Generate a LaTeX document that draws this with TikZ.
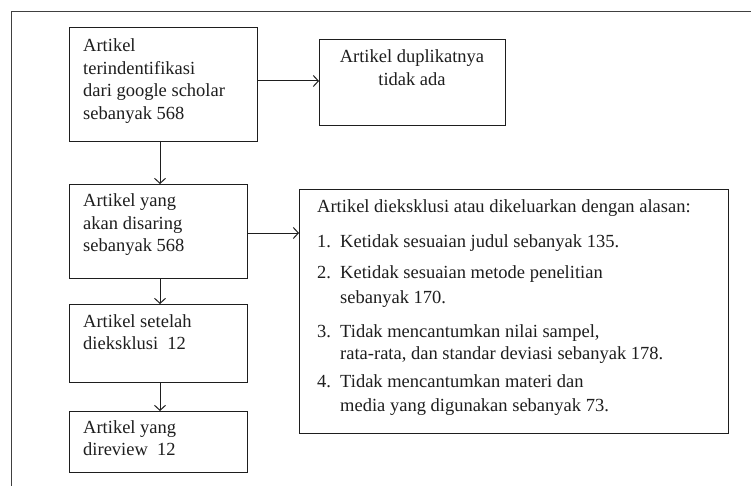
\documentclass[tikz,border=0pt]{standalone}
\usepackage{fontspec}
\setmainfont{Liberation Serif}
\usetikzlibrary{arrows.meta}
\definecolor{ink}{HTML}{1E1E1E}
\tikzset{
  box/.style={draw=ink, line width=1.2pt, anchor=north west, inner sep=0pt},
  txt/.style={anchor=base west, inner sep=0pt, text=ink, font=\fontsize{18.5}{22.5}\selectfont},
  arr/.style={draw=ink, line width=1pt, -{Straight Barb[length=5pt,width=11pt,line width=1pt]}}
}
\begin{document}
\begin{tikzpicture}[x=1pt,y=-1pt]
\useasboundingbox (0,0) rectangle (751,486);
\fill[white] (0,0) rectangle (751,486);
\clip (0,0) rectangle (751,486);
% outer frame
\draw[ink!85, line width=1.5pt] (11.5,500) -- (11.5,11.5) -- (770,11.5);
% boxes
\node[box, minimum width=188pt, minimum height=114pt] (b1) at (69,27) {};
\node[box, minimum width=186pt, minimum height=86pt] (b2) at (319,39) {};
\node[box, minimum width=178pt, minimum height=94pt] (b3) at (69,184) {};
\node[box, minimum width=178pt, minimum height=78pt] (b4) at (69,304) {};
\node[box, minimum width=178pt, minimum height=61pt] (b5) at (69,411) {};
\node[box, minimum width=429pt, minimum height=244pt] (b6) at (299,189) {};
% texts
\node[txt] (t1) at (83,52) {\parbox[t]{170pt}{\raggedright Artikel\\terindentifikasi\\dari google scholar\\sebanyak 568}};
\node[txt, anchor=base] (t2) at (412,63) {\parbox[t]{186pt}{\centering Artikel duplikatnya\\tidak ada}};
\node[txt] (t3) at (83,207) {\parbox[t]{160pt}{\raggedright Artikel yang\\akan disaring\\sebanyak 568}};
\node[txt] (t4) at (83,327) {\parbox[t]{160pt}{\raggedright Artikel setelah\\dieksklusi\ \ 12}};
\node[txt] (t5) at (83,433) {\parbox[t]{160pt}{\raggedright Artikel yang\\direview\ \ 12}};
\node[txt] (t6) at (317,213) {\parbox[t]{410pt}{\raggedright\fontsize{18.5}{23.5}\selectfont
Artikel dieksklusi atau dikeluarkan dengan alasan:\\[10.5pt]
\makebox[23pt][l]{1.}Ketidak sesuaian judul sebanyak 135.\\[7.5pt]
\makebox[23pt][l]{2.}Ketidak sesuaian metode penelitian\\[1.5pt]
\hspace*{23pt}sebanyak 170.\\[11pt]
\makebox[23pt][l]{3.}Tidak mencantumkan nilai sampel,\\[-1.5pt]
\hspace*{23pt}rata-rata, dan standar deviasi sebanyak 178.\\[4.5pt]
\makebox[23pt][l]{4.}Tidak mencantumkan materi dan\\[0.5pt]
\hspace*{23pt}media yang digunakan sebanyak 73.}};
% connectors
\draw[arr] (b1.east |- 0,81) -- (b2.west |- 0,81);
\draw[arr] (b3.north -| 160,0) ++(0,-43) coordinate (c1) (c1) -- (b3.north -| 160,0);
\draw[arr] (b3.east |- 0,233) -- (b6.west |- 0,233);
\draw[arr] (b3.south -| 160,0) -- (b4.north -| 160,0);
\draw[arr] (b4.south -| 160,0) -- (b5.north -| 160,0);
\end{tikzpicture}
\end{document}
